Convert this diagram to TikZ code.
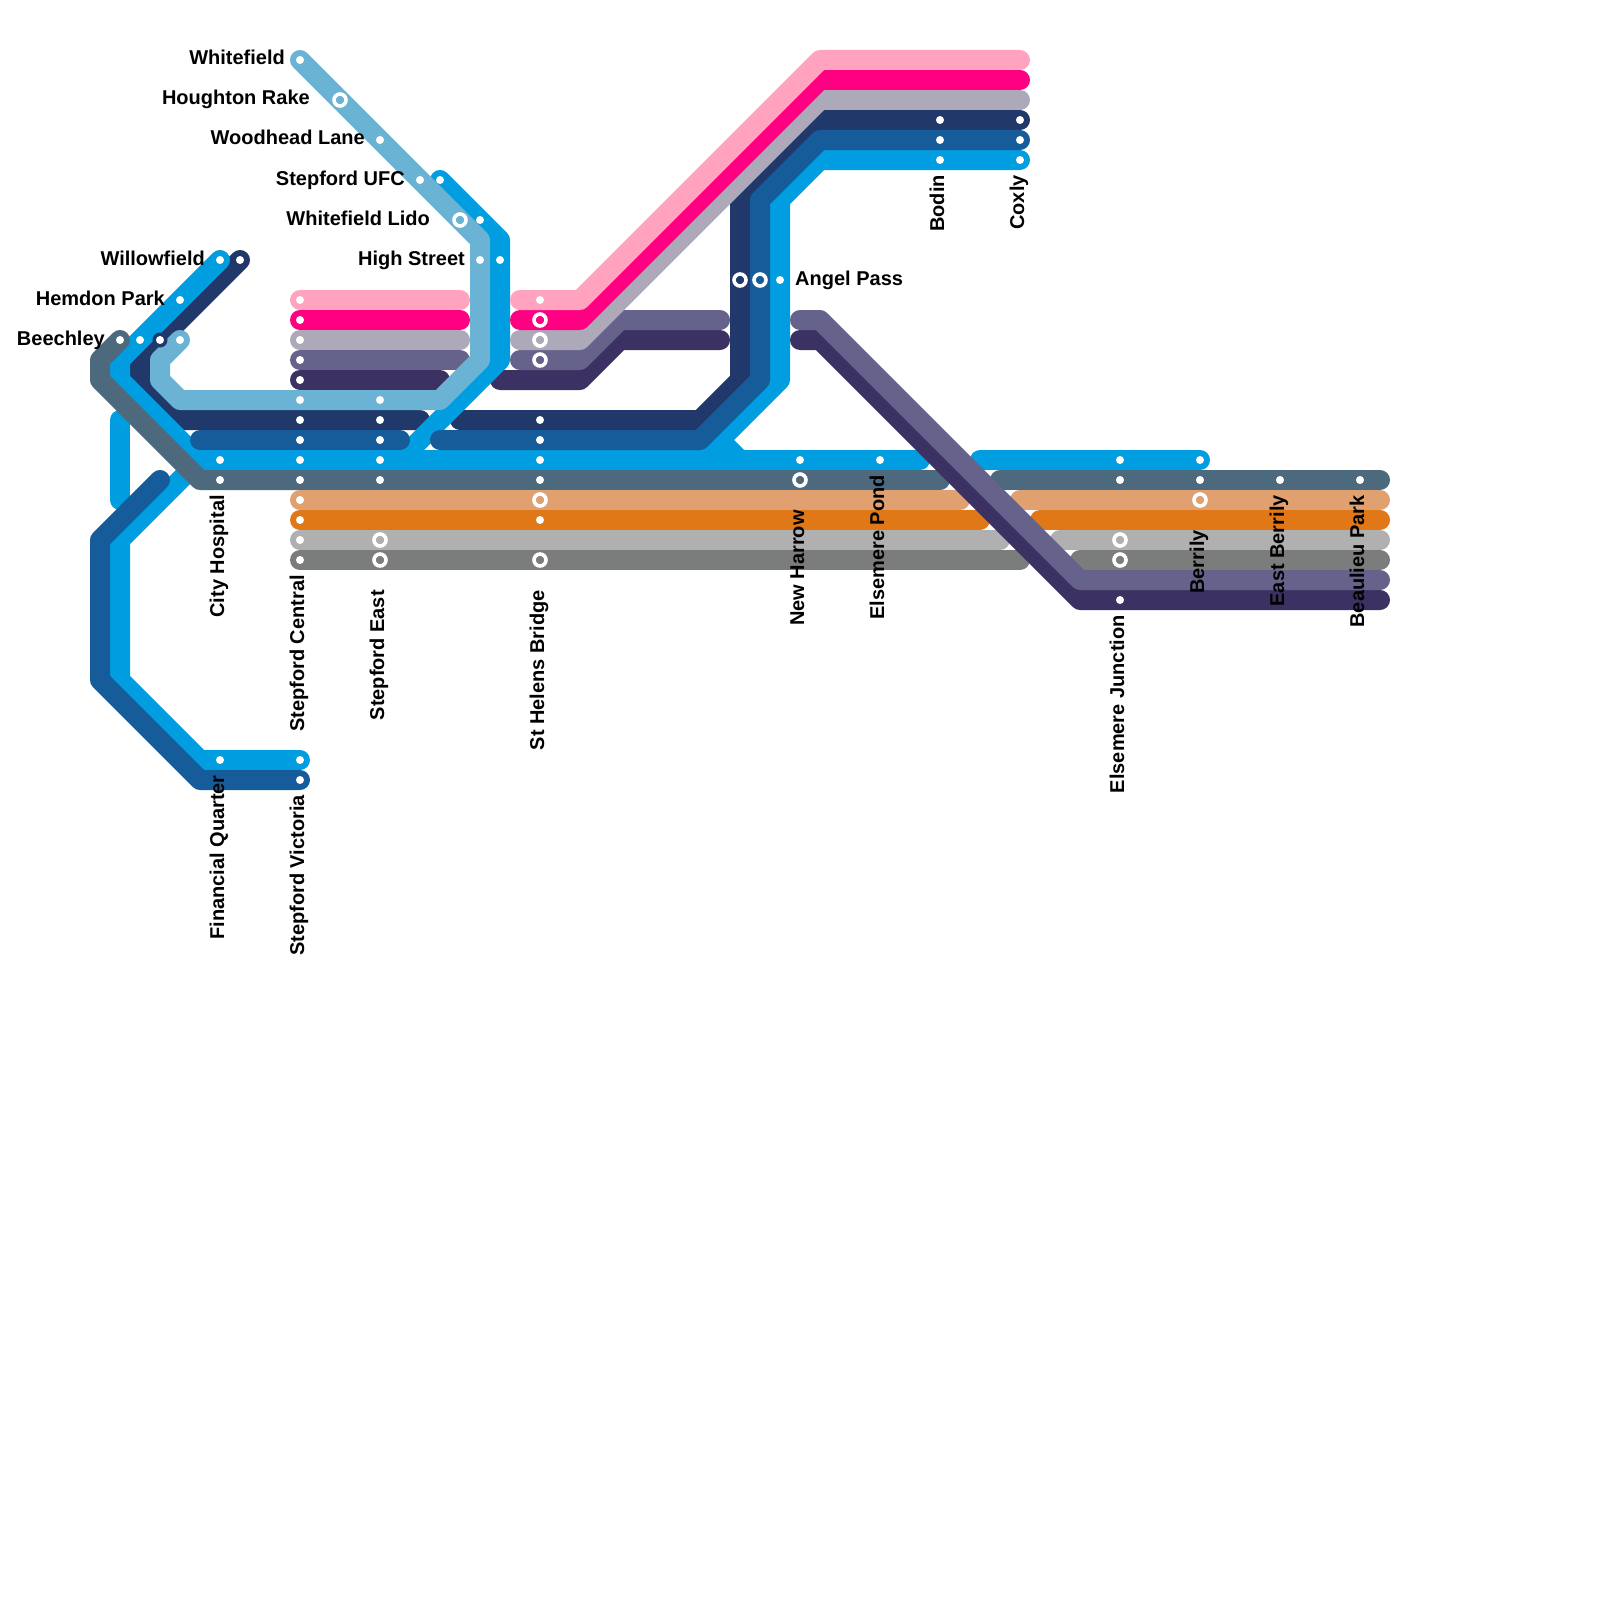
\documentclass[tikz,border=0pt]{standalone}
\usepackage{fontspec}
\setmainfont{Liberation Sans}
\definecolor{lpink}{HTML}{FFA3BE}
\definecolor{hpink}{HTML}{FF0083}
\definecolor{lavn}{HTML}{AEA9B9}
\definecolor{purp}{HTML}{65638C}
\definecolor{dpurp}{HTML}{3B3162}
\definecolor{lblue}{HTML}{6BB3D4}
\definecolor{navy}{HTML}{20386A}
\definecolor{dblue}{HTML}{165C9A}
\definecolor{bblue}{HTML}{009DE0}
\definecolor{slate}{HTML}{4C697E}
\definecolor{peach}{HTML}{E0A070}
\definecolor{orng}{HTML}{E07817}
\definecolor{lgry}{HTML}{B0B0B0}
\definecolor{dgry}{HTML}{7A7D7C}
\tikzset{
  trk/.style={line width=20pt,line cap=round,line join=round},
  dot/.style={circle,fill=white,inner sep=0pt,minimum size=8pt},
  rng/.style={circle,draw=white,line width=3.6pt,inner sep=0pt,minimum size=12pt},
  hub/.style={circle,fill=navy,inner sep=0pt,minimum size=15pt},
  lft/.style={font=\bfseries\fontsize{20pt}{20pt}\selectfont,inner sep=0pt,anchor=base east},
  rgt/.style={font=\bfseries\fontsize{20pt}{20pt}\selectfont,inner sep=0pt,anchor=base west},
  vrt/.style={font=\bfseries\fontsize{20pt}{20pt}\selectfont,inner sep=0pt,anchor=base east,rotate=90},
}
\begin{document}
\begin{tikzpicture}[x=1pt,y=-1pt]
  \useasboundingbox (0,0) rectangle (1600,1600);
  % tracks, lowest first
  \draw[trk,navy] (240,260)--(140,360)--(140,380)--(180,420)--(420,420);
  \draw[trk,navy] (460,420)--(700,420)--(740,380)--(740,200)--(820,120)--(1020,120);
  \draw[trk,dpurp] (300,380)--(440,380);
  \draw[trk,dpurp] (500,380)--(580,380)--(620,340)--(720,340);
  \draw[trk,bblue] (220,260)--(120,360)--(120,380)--(200,460)--(700,460)--(780,380)--(780,200)--(820,160)--(1020,160);
  \draw[trk,bblue] (440,180)--(500,240)--(500,360)--(400,460);
  \draw[trk,bblue] (920,460)--(700,460);
  \draw[trk,bblue] (740,460)--(720,440);
  \draw[trk,bblue] (120,420)--(120,500);
  \draw[trk,bblue] (300,760)--(200,760)--(120,680)--(120,540)--(200,460);
  \draw[trk,bblue] (980,460)--(1200,460);
  \draw[trk,dblue] (200,440)--(400,440);
  \draw[trk,dblue] (440,440)--(700,440)--(760,380)--(760,200)--(820,140)--(1020,140);
  \draw[trk,dblue] (300,780)--(200,780)--(100,680)--(100,540)--(160,480);
  \draw[trk,purp] (520,360)--(580,360)--(620,320)--(720,320);
  \draw[trk,lavn] (520,340)--(580,340)--(820,100)--(1020,100);
  \draw[trk,hpink] (520,320)--(580,320)--(820,80)--(1020,80);
  \draw[trk,lpink] (520,300)--(580,300)--(820,60)--(1020,60);
  \draw[trk,purp] (300,360)--(460,360);
  \draw[trk,lavn] (300,340)--(460,340);
  \draw[trk,hpink] (300,320)--(460,320);
  \draw[trk,lpink] (300,300)--(460,300);
  \draw[trk,lblue] (180,340)--(160,360)--(160,380)--(180,400)--(440,400)--(480,360)--(480,240)--(300,60);
  \draw[trk,slate] (120,340)--(100,360)--(100,380)--(200,480)--(940,480);
  \draw[trk,peach] (300,500)--(960,500);
  \draw[trk,orng] (300,520)--(980,520);
  \draw[trk,lgry] (300,540)--(1000,540);
  \draw[trk,dgry] (300,560)--(1020,560);
  \draw[trk,slate] (1000,480)--(1380,480);
  \draw[trk,peach] (1020,500)--(1380,500);
  \draw[trk,orng] (1040,520)--(1380,520);
  \draw[trk,lgry] (1060,540)--(1380,540);
  \draw[trk,dgry] (1080,560)--(1380,560);
  \draw[trk,dpurp] (800,340)--(820,340)--(1080,600)--(1380,600);
  \draw[trk,purp] (800,320)--(820,320)--(1080,580)--(1380,580);
  % stations
  \node[dot] (wf) at (300,60) {};
  \node[rng] (hr) at (340,100) {};
  \node[dot] (wl) at (380,140) {};
  \node[dot] (uf) at (420,180) {};
  \node[dot] (ufb) at (440,180) {};
  \node[rng] (ld) at (460,220) {};
  \node[dot] (ldb) at (480,220) {};
  \node[dot] (hs) at (480,260) {};
  \node[dot] (hsb) at (500,260) {};
  \node[dot] (wi) at (220,260) {};
  \node[dot] (win) at (240,260) {};
  \node[dot] (he) at (180,300) {};
  \node[dot] (be) at (120,340) {};
  \node[dot] (beb) at (140,340) {};
  \node[hub] (bec) at (160,340) {};
  \node[dot] (ben) at (160,340) {};
  \node[dot] (bel) at (180,340) {};
  \node[dot] (ch) at (220,460) {};
  \node[dot] (chs) at (220,480) {};
  \node[dot] (sc1) at (300,300) {};
  \node[dot] (sc2) at (300,320) {};
  \node[dot] (sc3) at (300,340) {};
  \node[dot] (sc4) at (300,360) {};
  \node[dot] (sc5) at (300,380) {};
  \node[dot] (sc6) at (300,400) {};
  \node[dot] (sc7) at (300,420) {};
  \node[dot] (sc8) at (300,440) {};
  \node[dot] (sc9) at (300,460) {};
  \node[dot] (sc10) at (300,480) {};
  \node[dot] (sc11) at (300,500) {};
  \node[dot] (sc12) at (300,520) {};
  \node[dot] (sc13) at (300,540) {};
  \node[dot] (sc14) at (300,560) {};
  \node[dot] (se1) at (380,400) {};
  \node[dot] (se2) at (380,420) {};
  \node[dot] (se3) at (380,440) {};
  \node[dot] (se4) at (380,460) {};
  \node[dot] (se5) at (380,480) {};
  \node[rng] (se6) at (380,540) {};
  \node[rng] (se7) at (380,560) {};
  \node[dot] (sh1) at (540,300) {};
  \node[rng] (sh2) at (540,320) {};
  \node[rng] (sh3) at (540,340) {};
  \node[rng] (sh4) at (540,360) {};
  \node[dot] (sh5) at (540,420) {};
  \node[dot] (sh6) at (540,440) {};
  \node[dot] (sh7) at (540,460) {};
  \node[dot] (sh8) at (540,480) {};
  \node[rng] (sh9) at (540,500) {};
  \node[dot] (sh10) at (540,520) {};
  \node[rng] (sh11) at (540,560) {};
  \node[rng] (ap1) at (740,280) {};
  \node[rng] (ap2) at (760,280) {};
  \node[dot] (ap3) at (780,280) {};
  \node[dot] (nh1) at (800,460) {};
  \node[rng] (nh2) at (800,480) {};
  \node[dot] (ep) at (880,460) {};
  \node[dot] (bo1) at (940,120) {};
  \node[dot] (bo2) at (940,140) {};
  \node[dot] (bo3) at (940,160) {};
  \node[dot] (co1) at (1020,120) {};
  \node[dot] (co2) at (1020,140) {};
  \node[dot] (co3) at (1020,160) {};
  \node[dot] (ej1) at (1120,460) {};
  \node[dot] (ej2) at (1120,480) {};
  \node[rng] (ej3) at (1120,540) {};
  \node[rng] (ej4) at (1120,560) {};
  \node[dot] (ej5) at (1120,600) {};
  \node[dot] (br1) at (1200,460) {};
  \node[dot] (br2) at (1200,480) {};
  \node[rng] (br3) at (1200,500) {};
  \node[dot] (eb) at (1280,480) {};
  \node[dot] (bp) at (1360,480) {};
  \node[dot] (fq) at (220,760) {};
  \node[dot] (sv1) at (300,760) {};
  \node[dot] (sv2) at (300,780) {};
  % labels
  \node[lft] (lwf) at (285,65) {Whitefield};
  \node[lft] (lhr) at (310,105) {Houghton Rake};
  \node[lft] (lwl) at (365,145) {Woodhead Lane};
  \node[lft] (luf) at (405,185) {Stepford UFC};
  \node[lft] (lld) at (430,225) {Whitefield Lido};
  \node[lft] (lhs) at (465,265) {High Street};
  \node[lft] (lwi) at (205,265) {Willowfield};
  \node[lft] (lhe) at (165,305) {Hemdon Park};
  \node[lft] (lbe) at (105,345) {Beechley};
  \node[rgt] (lap) at (795,285) {Angel Pass};
  \node[vrt] (lch) at (224,495) {City Hospital};
  \node[vrt] (lsc) at (304,575) {Stepford Central};
  \node[vrt] (lse) at (384,590) {Stepford East};
  \node[vrt] (lsh) at (544,590) {St Helens Bridge};
  \node[vrt] (lnh) at (804,510) {New Harrow};
  \node[vrt] (lep) at (884,475) {Elsemere Pond};
  \node[vrt] (lbo) at (944,175) {Bodin};
  \node[vrt] (lco) at (1024,175) {Coxly};
  \node[vrt] (lej) at (1124,615) {Elsemere Junction};
  \node[vrt] (lbr) at (1204,530) {Berrily};
  \node[vrt] (leb) at (1284,495) {East Berrily};
  \node[vrt] (lbp) at (1364,495) {Beaulieu Park};
  \node[vrt] (lfq) at (224,775) {Financial Quarter};
  \node[vrt] (lsv) at (304,795) {Stepford Victoria};
\end{tikzpicture}
\end{document}
